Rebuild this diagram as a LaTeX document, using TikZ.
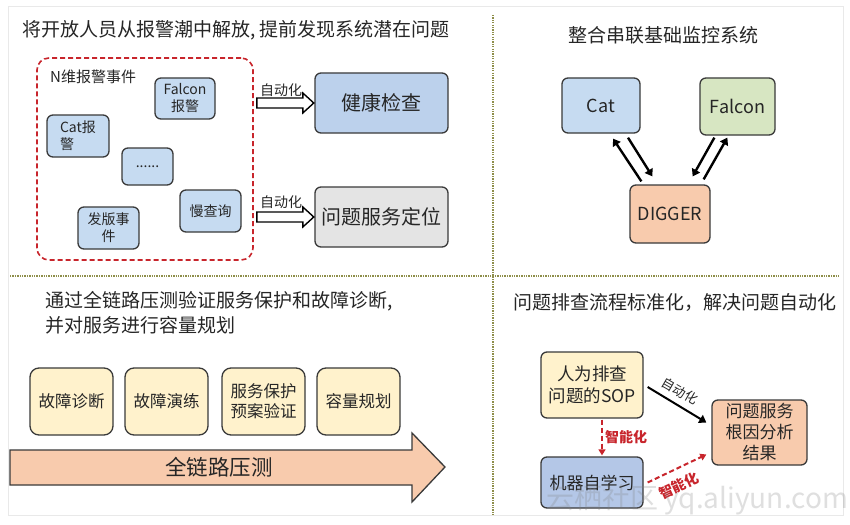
\documentclass[tikz,border=0pt]{standalone}
\usepackage{fontspec}
\setmainfont{Noto Sans CJK SC}
\usetikzlibrary{calc,arrows.meta}
\definecolor{txt}{HTML}{262626}
\definecolor{boxline}{HTML}{3A3A3A}
\definecolor{lblue}{HTML}{C6DBF1}
\definecolor{mblue}{HTML}{BCD1EC}
\definecolor{dblue}{HTML}{B4C7E7}
\definecolor{lgray}{HTML}{E4E4E4}
\definecolor{lgreen}{HTML}{D7E6C2}
\definecolor{salmon}{HTML}{F8CBAD}
\definecolor{lyellow}{HTML}{FFF2CC}
\definecolor{dred}{HTML}{C8252C}
\definecolor{divcol}{HTML}{8E8E4A}
\newcommand\fsz[2]{\fontsize{#1}{#2}\selectfont}
\begin{document}
\begin{tikzpicture}[x=1pt,y=-1pt,
  box/.style={draw=boxline, line width=1.3pt, rounded corners=6pt, align=center, inner sep=2pt, text=txt},
  lbl/.style={text=txt, inner sep=0pt},
  divider/.style={draw=divcol, line width=1.4pt, dash pattern=on 1.3pt off 1.1pt},
  hollow/.style={draw=black, line width=1.4pt, fill=white, line join=miter},
  thickarr/.style={draw=black, line width=2.4pt, -{Triangle[length=7pt,width=9pt]}},
  redarr/.style={draw=dred, line width=2pt, dash pattern=on 5pt off 3pt, -{Triangle[length=6pt,width=7pt]}},
]
\useasboundingbox (0,0) rectangle (850,524);
\fill[white] (0,0) rectangle (850,524);
\draw[draw=lgray!80, line width=0.8pt] (8,6) rectangle (843,515);

% dividers
\coordinate (vtop) at (493,15);
\coordinate (vbot) at (493,515);
\coordinate (hleft) at (10,276);
\coordinate (hright) at (840,276);
\draw[divider] (vtop) -- (vbot);
\draw[divider] (hleft) -- (hright);

% ---------- top left ----------
\node[lbl, anchor=west, font=\fsz{19}{23}] (t1) at (22,30) {将开放人员从报警潮中解放, 提前发现系统潜在问题};
\node[draw=dred, line width=1.6pt, dash pattern=on 5pt off 3pt, rounded corners=12pt,
      minimum width=216pt, minimum height=202pt] (evt) at (145,159) {};
\node[lbl, anchor=west, font=\fsz{15}{18}] (evtl) at (50,77) {N维报警事件};
\node[box, fill=lblue, minimum width=60pt, minimum height=41pt, font=\fsz{14}{17}] (sfal) at (185,98.5) {Falcon\\报警};
\node[box, fill=lblue, minimum width=62pt, minimum height=42pt, align=left, font=\fsz{14}{17}] (scat) at (78,136) {Cat报\\警\hphantom{Cat}};
\node[box, fill=lblue, minimum width=51pt, minimum height=37pt, font=\fsz{14}{17}] (sdots) at (147.5,166.5) {......};
\node[box, fill=lblue, minimum width=61pt, minimum height=42pt, font=\fsz{14}{17}] (sslow) at (210.5,211) {慢查询};
\node[box, fill=lblue, minimum width=61pt, minimum height=42pt, font=\fsz{14}{17}] (srel) at (108.5,228) {发版事\\件};
\node[box, fill=mblue, minimum width=133pt, minimum height=60pt, font=\fsz{20}{24}] (health) at (381.5,103) {健康检查};
\node[box, fill=lgray, minimum width=133pt, minimum height=60pt, font=\fsz{20}{24}] (locate) at (381.5,217) {问题服务定位};

\draw[hollow, shift={(evt.east |- health.west)}] (3,-5) -- (49,-5) -- (49,-10) -- (60,0) -- (49,10) -- (49,5) -- (3,5) -- cycle;
\draw[hollow, shift={(evt.east |- locate.west)}] (3,-5) -- (49,-5) -- (49,-10) -- (60,0) -- (49,10) -- (49,5) -- (3,5) -- cycle;
\node[lbl, font=\fsz{14}{17}] (auto1) at (281,90) {自动化};
\node[lbl, font=\fsz{14}{17}] (auto2) at (281,202) {自动化};

% ---------- top right ----------
\node[lbl, font=\fsz{19}{23}] (t2) at (663.5,35) {整合串联基础监控系统};
\node[box, fill=lblue, minimum width=78pt, minimum height=55pt, font=\fsz{18}{22}] (cat) at (601,105.5) {Cat};
\node[box, fill=lgreen, minimum width=75pt, minimum height=57pt, font=\fsz{18}{22}] (falcon) at (737.5,106.5) {Falcon};
\node[box, fill=salmon, minimum width=80pt, minimum height=58pt, font=\fsz{18}{22}] (digger) at (670,214) {DIGGER};
\draw[thickarr] ($(digger.north west)+(12,-3)$) -- ($(cat.south)+(12,5)$);
\draw[thickarr] ($(cat.south)+(27,4)$) -- ($(digger.north west)+(23,-8)$);
\draw[thickarr] ($(falcon.south west)+(15,2)$) -- ($(digger.north east)+(-18,-8)$);
\draw[thickarr] ($(digger.north east)+(-7,-5)$) -- ($(falcon.south west)+(28,2)$);

% ---------- bottom left ----------
\node[lbl, anchor=north west, align=left, font=\fsz{19}{25}] (t3) at (45,291) {通过全链路压测验证服务保护和故障诊断,\\并对服务进行容量规划};
\node[box, fill=lyellow, minimum width=83pt, minimum height=67pt, rounded corners=9pt, font=\fsz{16.5}{20}] (b1) at (71.5,401.5) {故障诊断};
\node[box, fill=lyellow, minimum width=83pt, minimum height=67pt, rounded corners=9pt, font=\fsz{16.5}{20}] (b2) at (166.5,401.5) {故障演练};
\node[box, fill=lyellow, minimum width=83pt, minimum height=67pt, rounded corners=9pt, font=\fsz{16.5}{20}] (b3) at (263.5,401.5) {服务保护\\预案验证};
\node[box, fill=lyellow, minimum width=83pt, minimum height=67pt, rounded corners=9pt, font=\fsz{16.5}{20}] (b4) at (358.5,401.5) {容量规划};
\draw[draw=boxline, line width=1.3pt, fill=salmon, line join=miter]
  (10,450) -- (412,450) -- (412,433) -- (445,467) -- (412,502) -- (412,485) -- (10,485) -- cycle;
\node[lbl, font=\fsz{21.5}{26}] (bigl) at (219,467) {全链路压测};

% ---------- bottom right ----------
\node[lbl, font=\fsz{19}{23}] (t4) at (674.5,303) {问题排查流程标准化，解决问题自动化};
\node[box, fill=lyellow, minimum width=102pt, minimum height=66pt, font=\fsz{17.5}{22}] (sop) at (592,385) {人为排查\\问题的SOP};
\node[box, fill=salmon, minimum width=95pt, minimum height=65pt, font=\fsz{17}{21}] (result) at (759.5,432.5) {问题服务\\根因分析\\结果};
\node[box, fill=dblue, minimum width=102pt, minimum height=51pt, font=\fsz{17}{21}] (ml) at (592,482.5) {机器自学习};
\draw[thickarr, line width=2pt] ($(sop.east)+(4,2)$) -- ($(result.west)+(-5,-10)$);
\node[lbl, rotate=-30, font=\fsz{13}{16}] (autol) at (680,391) {自动化};
\draw[redarr] ($(sop.south)+(10,1)$) -- ($(ml.north)+(10,-1)$);
\node[lbl, text=dred, anchor=west, font=\fsz{14}{17}\bfseries] (smart1) at (605,437) {智能化};
\draw[redarr] ($(ml.east)+(4,0)$) -- ($(result.west)+(-5,22)$);
\node[lbl, text=dred, rotate=25, font=\fsz{14}{17}\bfseries] (smart2) at (679,486) {智能化};

% watermark
\node[lbl, text=gray, opacity=0.25, font=\fsz{28}{32}] (wm) at (697,500) {云栖社区 yq.aliyun.com};
\end{tikzpicture}
\end{document}
